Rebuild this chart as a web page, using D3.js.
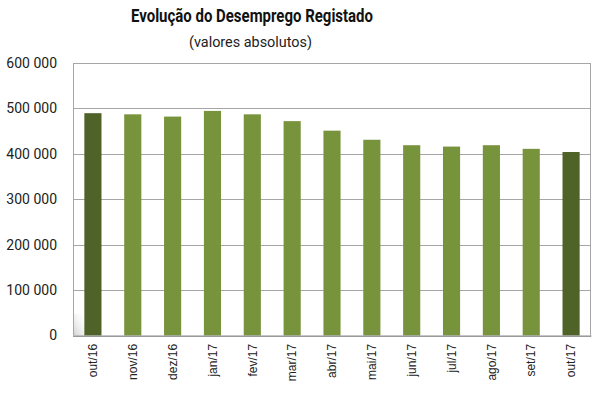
<!DOCTYPE html>
<html>
<head>
<meta charset="utf-8">
<script src="https://cdn.jsdelivr.net/npm/d3@7"></script>
<style>
  body { margin: 0; background: #fff; }
  svg { display: block; }
</style>
</head>
<body>
<script>
const width = 605;
const height = 396;
const margin = { top: 63, right: 14, bottom: 60, left: 73 };

// data
const months = ["out/16", "nov/16", "dez/16", "jan/17", "fev/17", "mar/17", "abr/17",
  "mai/17", "jun/17", "jul/17", "ago/17", "set/17", "out/17"];
const desempregados = [489500, 487000, 482000, 494500, 487000, 472000, 451000,
  431000, 419000, 416000, 419000, 411000, 404000];
const yTicks = [0, 100000, 200000, 300000, 400000, 500000, 600000];

const darkGreen = "#4f6228", lightGreen = "#77933c";
const narrow = "'Roboto', 'DejaVu Sans', sans-serif";

const svg = d3.select("body").append("svg")
  .attr("width", width)
  .attr("height", height);

const x = d3.scaleBand()
  .domain(months)
  .range([margin.left, width - margin.right])
  .paddingInner(0.57)
  .paddingOuter(0.285);

const y = d3.scaleLinear()
  .domain([0, 600000])
  .range([height - margin.bottom - 0.5, margin.top]);

const fmt = v => d3.format(",")(v).replace(/,/g, " ");

// titles
svg.append("text")
  .attr("x", 131).attr("y", 22)
  .attr("textLength", 242)
  .attr("lengthAdjust", "spacingAndGlyphs")
  .style("font-family", narrow)
  .style("font-weight", "bold")
  .style("font-size", "18px")
  .attr("fill", "#111")
  .text("Evolução do Desemprego Registado");

svg.append("text")
  .attr("x", 189).attr("y", 47)
  .attr("textLength", 123)
  .attr("lengthAdjust", "spacingAndGlyphs")
  .style("font-family", narrow)
  .style("font-size", "15px")
  .attr("fill", "#222")
  .text("(valores absolutos)");

// faint shadow in the lower-left corner of the plot
const defs = svg.append("defs");
const grad = defs.append("linearGradient").attr("id", "shade")
  .attr("x1", "0").attr("y1", "1").attr("x2", "1").attr("y2", "0");
grad.append("stop").attr("offset", "0").attr("stop-color", "#cfcfcf");
grad.append("stop").attr("offset", "1").attr("stop-color", "#ffffff").attr("stop-opacity", 0);
svg.append("rect")
  .attr("x", margin.left).attr("y", y(0) - 22)
  .attr("width", 14).attr("height", 22)
  .attr("fill", "url(#shade)");

// grid lines
svg.append("g")
  .selectAll("line")
  .data(yTicks)
  .join("line")
  .attr("x1", margin.left).attr("x2", width - margin.right)
  .attr("y1", d => Math.round(y(d)) + 0.5).attr("y2", d => Math.round(y(d)) + 0.5)
  .attr("stroke", "#a6a6a6");

// plot border (left / right)
svg.append("line")
  .attr("x1", margin.left + 0.5).attr("x2", margin.left + 0.5)
  .attr("y1", y(600000)).attr("y2", y(0))
  .attr("stroke", "#a6a6a6");
svg.append("line")
  .attr("x1", width - margin.right - 0.5).attr("x2", width - margin.right - 0.5)
  .attr("y1", y(600000)).attr("y2", y(0))
  .attr("stroke", "#a6a6a6");

// y axis labels
const yAxis = d3.axisLeft(y).tickValues(yTicks).tickFormat(fmt).tickSize(0).tickPadding(16);
svg.append("g")
  .attr("transform", `translate(${margin.left},0)`)
  .call(yAxis)
  .call(g => g.select(".domain").remove())
  .selectAll("text")
  .style("font-family", narrow)
  .style("font-size", "14px")
  .attr("fill", "#222");

// bars
svg.append("g")
  .selectAll("rect")
  .data(desempregados)
  .join("rect")
  .attr("x", (d, i) => x(months[i]))
  .attr("width", x.bandwidth())
  .attr("y", d => y(d))
  .attr("height", d => y(0) - y(d))
  .attr("fill", (d, i) => (i === 0 || i === months.length - 1) ? darkGreen : lightGreen);

// x axis
const xAxis = d3.axisBottom(x).tickSize(0).tickPadding(9);
svg.append("g")
  .attr("transform", `translate(0,${y(0)})`)
  .call(xAxis)
  .call(g => g.select(".domain").attr("stroke", "#8c8c8c"))
  .selectAll("text")
  .style("font-family", "'Liberation Sans', Arial, sans-serif")
  .style("font-size", "12px")
  .attr("fill", "#222")
  .attr("transform", "rotate(-90)")
  .attr("text-anchor", "end")
  .attr("dx", "-0.7em")
  .attr("dy", "0.35em")
  .attr("x", 0)
  .attr("y", 0);
</script>
</body>
</html>
